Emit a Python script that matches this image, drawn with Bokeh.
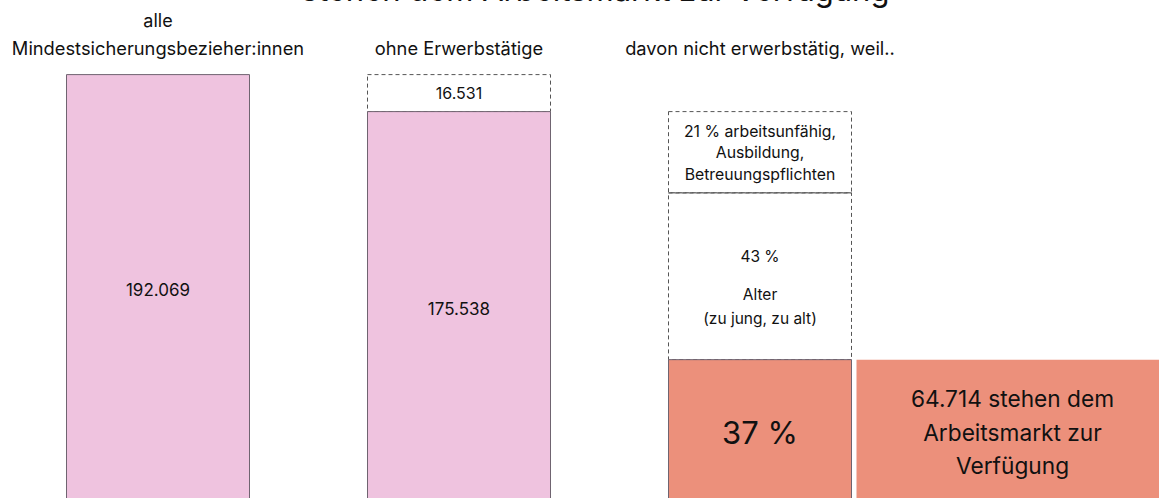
from bokeh.plotting import figure
from bokeh.models import Range1d
from bokeh.core.properties import value
from bokeh.embed import file_html
from bokeh.resources import INLINE

# ---------------- data ----------------
title = "stehen dem Arbeitsmarkt zur Verfügung"
col_headers = [["alle", "Mindestsicherungsbezieher:innen"], ["ohne Erwerbstätige"], ["davon nicht erwerbstätig, weil.."]]
total_all = 192069
employed = 16531
not_employed = total_all - employed  # 175538
reason_values = [64714, 74500, 36324]          # verfügbar, Alter, arbeitsunfähig...
reason_pct = [37, 43, 21]
available_label = ["64.714 stehen dem", "Arbeitsmarkt zur", "Verfügung"]
age_label = ["Alter", "(zu jung, zu alt)"]
unable_label = ["arbeitsunfähig,", "Ausbildung,", "Betreuungspflichten"]

def fmt(v):
    return f"{v:,}".replace(",", ".")

# ---------------- layout ----------------
FONT = value("Inter")
PINK = "#efc3df"
SALMON = "#ec907b"
EDGE = "#6f6470"
DASH = "#555555"

K = employed / 37.0      # value units per pixel
BASE = 504               # page y of the zero line
def vy(py):
    return (BASE - py) * K

p = figure(width=1159, height=526,
           x_range=Range1d(0, 1159), y_range=Range1d(vy(498), vy(-28)),
           output_backend="svg", toolbar_location=None,
           x_axis_location=None, y_axis_location=None,
           min_border=0, margin=(-28, 0, 0, 0))
p.grid.visible = False
p.outline_line_color = None
p.background_fill_color = "white"

BW = 183
c1, c2, c3 = 157.5, 458.5, 759.5

# column 1
p.quad(left=c1 - BW / 2, right=c1 + BW / 2, bottom=0, top=total_all,
       fill_color=PINK, line_color=EDGE, line_width=1)
# column 2
p.quad(left=c2 - BW / 2, right=c2 + BW / 2, bottom=not_employed, top=total_all,
       fill_color="white", line_color=DASH, line_width=1, line_dash="4 3")
p.quad(left=c2 - BW / 2, right=c2 + BW / 2, bottom=0, top=not_employed,
       fill_color=PINK, line_color=EDGE, line_width=1)
# column 3 stacked
b0 = 0
b1 = b0 + reason_values[0]
b2 = b1 + reason_values[1]
b3 = b2 + reason_values[2]
p.quad(left=c3 - BW / 2, right=c3 + BW / 2, bottom=b2, top=b3,
       fill_color="white", line_color=DASH, line_width=1, line_dash="4 3")
p.quad(left=c3 - BW / 2, right=c3 + BW / 2, bottom=b1, top=b2,
       fill_color="white", line_color=DASH, line_width=1, line_dash="4 3")
p.segment(x0=c3 - BW / 2, x1=c3 + BW / 2, y0=b2, y1=b2, line_color=DASH, line_width=1)
p.quad(left=c3 - BW / 2, right=c3 + BW / 2, bottom=b0, top=b1,
       fill_color=SALMON, line_color=EDGE, line_width=1)
# column 4
p.quad(left=856, right=1170, bottom=0, top=reason_values[0],
       fill_color=SALMON, line_color=None)

def txt(x, y, s, size):
    p.text(x=[x], y=[y], text=[s], text_font=FONT, text_font_size=f"{size}px",
           text_align="center", text_baseline="middle", text_color="#111111")

# title (cut off at top in the reference)
p.text(x=[595], y=[vy(-11)], text=[title], text_font=FONT, text_font_size="31px",
       text_align="center", text_baseline="alphabetic", text_color="#111111")

# headers
txt(c1, vy(20), col_headers[0][0], 18)
txt(c1, vy(47), col_headers[0][1], 18.3)
txt(c2, vy(47), col_headers[1][0], 18.3)
txt(c3, vy(47), col_headers[2][0], 18.3)

# values
txt(c1, total_all / 2, fmt(total_all), 17)
txt(c2, (not_employed + total_all) / 2, fmt(employed), 16)
txt(c2, not_employed / 2, fmt(not_employed), 17)

# column 3 labels
txt(c3, vy(131), f"{reason_pct[2]} % {unable_label[0]}", 15.8)
txt(c3, vy(152), unable_label[1], 15.8)
txt(c3, vy(174), unable_label[2], 15.8)
txt(c3, vy(256), f"{reason_pct[1]} %", 15.5)
txt(c3, vy(294), age_label[0], 15.5)
txt(c3, vy(318), age_label[1], 15.5)
txt(c3, b1 / 2, f"{reason_pct[0]} %", 31)

# column 4 label
for i, line in enumerate(available_label):
    txt(1012, vy(398 + 33.5 * i), line, 22.7)

open("out.html", "w").write(file_html(p, INLINE))
